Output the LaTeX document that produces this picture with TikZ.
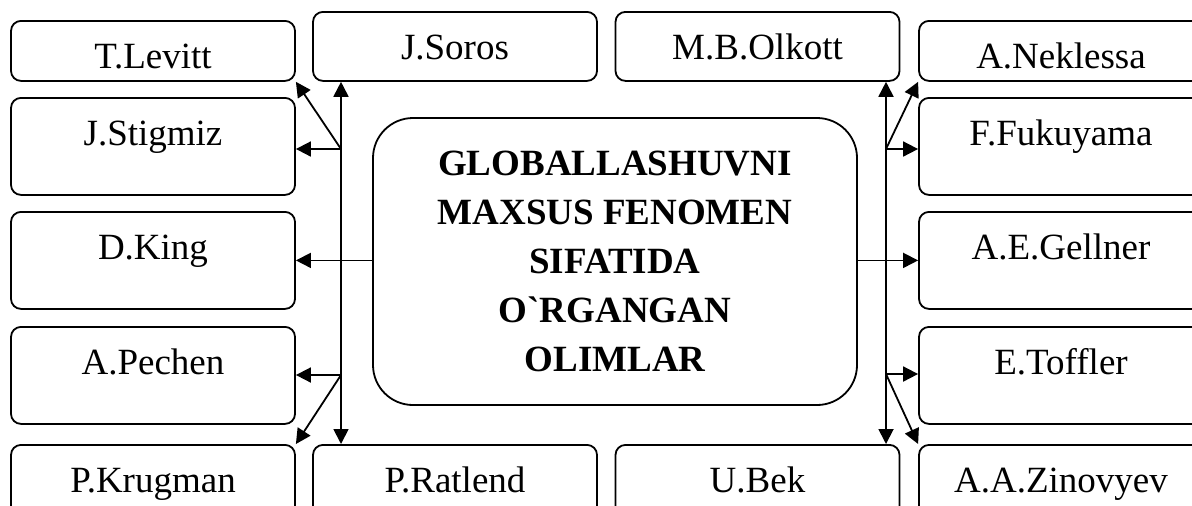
\documentclass[tikz,border=0pt]{standalone}
\usepackage{fontspec}
\setmainfont{Liberation Serif}[Ligatures=TeXOff]
\usetikzlibrary{arrows.meta}
\begin{document}
\begin{tikzpicture}[x=0.5pt,y=-0.5pt,
  line width=0.9pt,
  box/.style={draw, rounded corners=5pt, minimum width=142pt, inner sep=0pt,
    text height=24pt, anchor=north, font=\fontsize{18.5}{22}\selectfont},
  short/.style={box, text depth=6pt},
  mid/.style={box, text depth=10.5pt},
  tall/.style={box, text depth=24.5pt},
  low/.style={box, text depth=20pt},
  hub/.style={draw, rounded corners=20pt, minimum width=242pt, minimum height=143.5pt,
    align=center, inner sep=0pt, font=\fontsize{18.5}{24.5}\selectfont\bfseries},
  arr/.style={-{Triangle[length=7.5pt,width=7.5pt]}},
  darr/.style={{Triangle[length=7.5pt,width=7.5pt]}-{Triangle[length=7.5pt,width=7.5pt]}}
]
\useasboundingbox (0,0) rectangle (1192,505);
\clip (0,0) rectangle (1192,505);

% left column
\node[short] (levitt) at (153,20) {T.Levitt};
\node[tall] (stigmiz) at (153,97) {J.Stigmiz};
\node[tall] (king) at (153,211) {D.King};
\node[tall] (pechen) at (153,326) {A.Pechen};
\node[low] (krugman) at (153,444) {P.Krugman};

% top row
\node[mid] (soros) at (455,11) {J.Soros};
\node[mid] (olkott) at (757.5,11) {M.B.Olkott};

% bottom row
\node[low] (ratlend) at (455,444) {P.Ratlend};
\node[low] (bek) at (757.5,444) {U.Bek};

% right column
\node[short] (neklessa) at (1061,20) {A.Neklessa};
\node[tall] (fukuyama) at (1061,97) {F.Fukuyama};
\node[tall] (gellner) at (1061,211) {A.E.Gellner};
\node[tall] (toffler) at (1061,326) {E.Toffler};
\node[low] (zinovyev) at (1061,444) {A.A.Zinovyev};

% centre
\node[hub] (hub) at (615,261.5) {GLOBALLASHUVNI\\MAXSUS FENOMEN\\SIFATIDA\\O`RGANGAN\\OLIMLAR};

% left connectors
\coordinate (lu) at (341,149);
\coordinate (ld) at (341,375);
\draw[darr] (lu |- soros.south) -- (ld |- ratlend.north);
\draw[arr] (lu) -- (lu -| stigmiz.east);
\draw[arr] (lu) -- (levitt.south east);
\draw[arr] (ld) -- (ld -| pechen.east);
\draw[arr] (ld) -- (krugman.north east);
\draw[arr] (king.east -| hub.west) -- (king.east);

% right connectors
\coordinate (ru) at (886,149);
\coordinate (rd) at (886,374);
\draw[darr] (ru |- olkott.south) -- (rd |- bek.north);
\draw[arr] (ru) -- (ru -| fukuyama.west);
\draw[arr] (ru) -- (neklessa.south west);
\draw[arr] (rd) -- (rd -| toffler.west);
\draw[arr] (rd) -- (zinovyev.north west);
\draw[arr] (gellner.west -| hub.east) -- (gellner.west);
\end{tikzpicture}
\end{document}
